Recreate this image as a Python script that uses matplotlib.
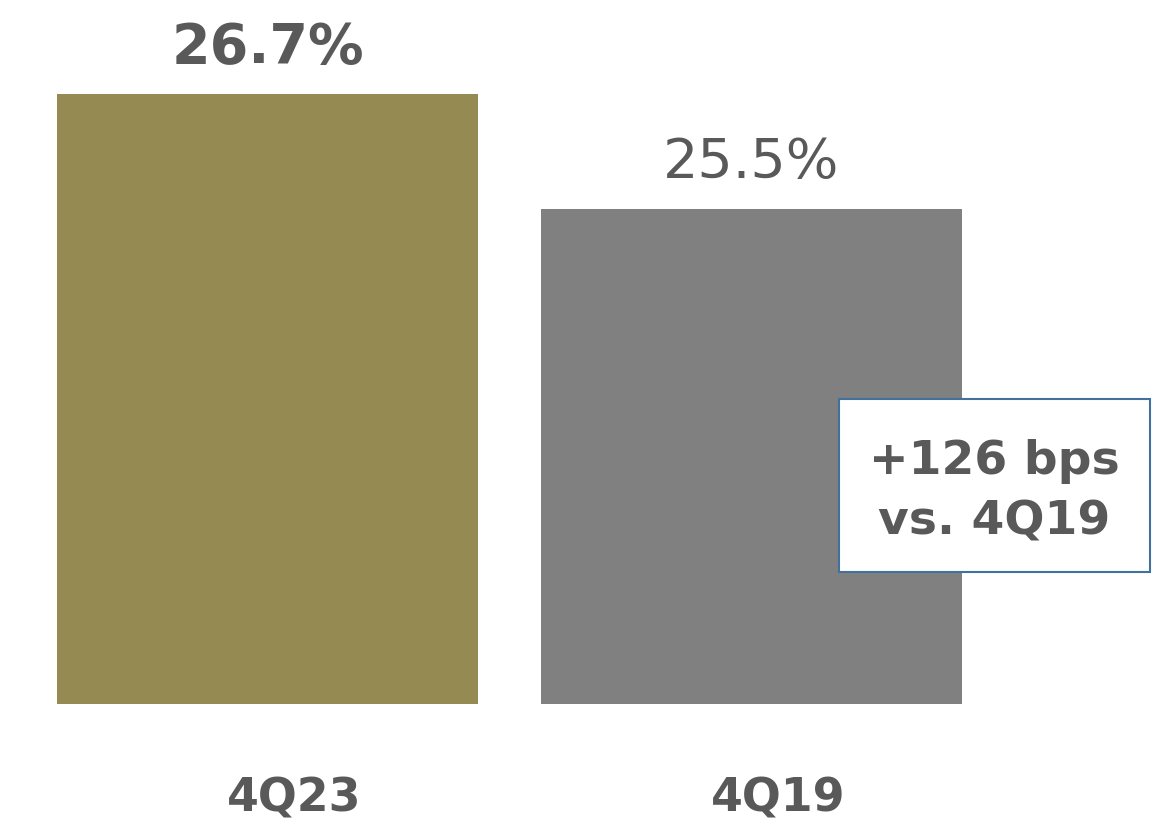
import matplotlib.pyplot as plt
from matplotlib.patches import Rectangle
import numpy as np

periodi = ['4Q23', '4Q19']
valori = [26.7, 25.5]
etichette = ['26.7%', '25.5%']
colori = ['#958a52', '#808080']
base = 20.33

testo = '#595959'

fig = plt.figure(figsize=(11.69, 8.26), dpi=100)
ax = fig.add_axes([0, 0, 1, 1])

x = np.arange(len(periodi))
altezze = np.array(valori) - base
ax.bar(x, altezze, bottom=base, width=0.87, color=colori)

# scala verticale: la base delle barre a ~704 px dall'alto
scala = 610 / (valori[0] - base)
ax.set_ylim(base - 122 / scala, base + 704 / scala)
ax.set_xlim(-267.5 / 484, (1169 - 267.5) / 484)
ax.axis('off')

# etichette dei valori sopra le barre
pesi = ['bold', 'normal']
for i, v in enumerate(valori):
    ax.text(x[i], v + 0.48, etichette[i], ha='center', va='center',
            fontsize=40, fontweight=pesi[i], color=testo)

# nomi dei periodi sotto le barre
for i, p in enumerate(periodi):
    ax.text(x[i] + 0.055, base - 0.99, p, ha='center', va='center',
            fontsize=33, fontweight='bold', color=testo)

# riquadro con la differenza
ax.add_patch(Rectangle((839 / 1169, 1 - 572 / 826), 311 / 1169, 173 / 826,
                       transform=ax.transAxes, facecolor='white',
                       edgecolor='#41719c', linewidth=1.5, zorder=3))
ax.text(994 / 1169, 1 - 492 / 826, '+126 bps\nvs. 4Q19', transform=ax.transAxes,
        ha='center', va='center', fontsize=34, fontweight='bold', color=testo,
        linespacing=1.45, zorder=4)

fig.savefig('out.png', dpi=100)
